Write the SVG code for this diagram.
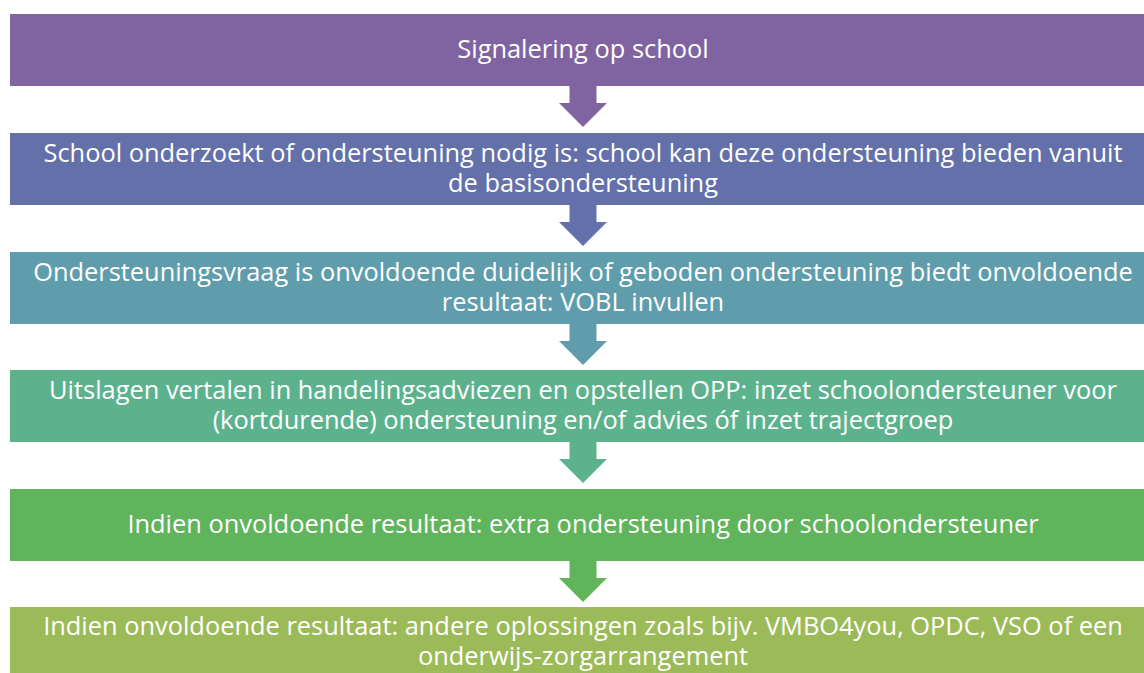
<svg xmlns="http://www.w3.org/2000/svg" width="1144" height="673" viewBox="0 0 1144 673">
<style>
text{font-family:"Open Sans","Liberation Sans",sans-serif;font-size:25.4px;fill:#fff;text-anchor:middle}
</style>
<defs>
<path id="arr" d="M-13.5,0 H13.5 V17 H24 L0,41 L-24,17 H-13.5 Z"/>
</defs>
<rect width="1144" height="673" fill="#fff"/>
<g id="connectors">
<use href="#arr" x="583" y="86" fill="#8064A2"/>
<use href="#arr" x="583" y="205" fill="#6370A9"/>
<use href="#arr" x="583" y="324" fill="#5F9DAD"/>
<use href="#arr" x="583" y="442" fill="#5DB28E"/>
<use href="#arr" x="583" y="561" fill="#5FB45C"/>
</g>
<g id="n1"><rect x="10" y="14" width="1140" height="72" fill="#8064A2"/><text x="583" y="58">Signalering op school</text></g>
<g id="n2"><rect x="10" y="133" width="1140" height="72" fill="#6370A9"/><text x="583" y="162">School onderzoekt of ondersteuning nodig is: school kan deze ondersteuning bieden vanuit<tspan x="583" dy="30">de basisondersteuning</tspan></text></g>
<g id="n3"><rect x="10" y="252" width="1140" height="72" fill="#5F9DAD"/><text x="583" y="281">Ondersteuningsvraag is onvoldoende duidelijk of geboden ondersteuning biedt onvoldoende<tspan x="583" dy="30">resultaat: VOBL invullen</tspan></text></g>
<g id="n4"><rect x="10" y="370" width="1140" height="72" fill="#5DB28E"/><text x="583" y="399">Uitslagen vertalen in handelingsadviezen en opstellen OPP: inzet schoolondersteuner voor<tspan x="583" dy="30">(kortdurende) ondersteuning en/of advies óf inzet trajectgroep</tspan></text></g>
<g id="n5"><rect x="10" y="489" width="1140" height="72" fill="#5FB45C"/><text x="583" y="533">Indien onvoldoende resultaat: extra ondersteuning door schoolondersteuner</text></g>
<g id="n6"><rect x="10" y="607" width="1140" height="72" fill="#9BBB59"/><text x="583" y="635">Indien onvoldoende resultaat: andere oplossingen zoals bijv. VMBO4you, OPDC, VSO of een<tspan x="583" dy="30">onderwijs-zorgarrangement</tspan></text></g>
</svg>
